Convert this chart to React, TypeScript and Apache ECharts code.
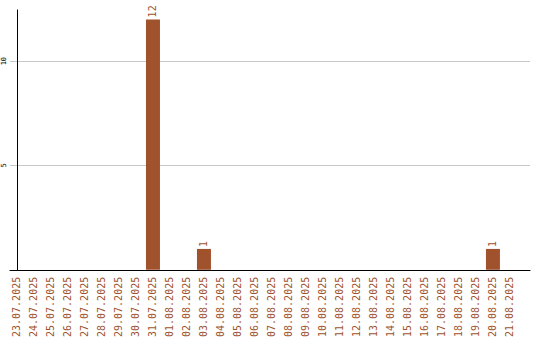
import React, { useEffect, useRef } from "react";
import * as echarts from "echarts";

const dates: string[] = [
  "23.07.2025", "24.07.2025", "25.07.2025", "26.07.2025", "27.07.2025",
  "28.07.2025", "29.07.2025", "30.07.2025", "31.07.2025", "01.08.2025",
  "02.08.2025", "03.08.2025", "04.08.2025", "05.08.2025", "06.08.2025",
  "07.08.2025", "08.08.2025", "09.08.2025", "10.08.2025", "11.08.2025",
  "12.08.2025", "13.08.2025", "14.08.2025", "15.08.2025", "16.08.2025",
  "17.08.2025", "18.08.2025", "19.08.2025", "20.08.2025", "21.08.2025",
];

const counts: number[] = [
  0, 0, 0, 0, 0, 0, 0, 0, 12, 0,
  0, 1, 0, 0, 0, 0, 0, 0, 0, 0,
  0, 0, 0, 0, 0, 0, 0, 0, 1, 0,
];

const yTicks: number[] = [0, 5, 10];

const BROWN = "#a0522d";
const MONO = "'DejaVu Sans Mono', monospace";

export default function App() {
  const ref = useRef<HTMLDivElement>(null);

  useEffect(() => {
    if (!ref.current) return;
    const chart = echarts.init(ref.current, null, { renderer: "svg" });
    const indices = dates.map((_, i) => i);
    const barData = counts
      .map((v, i) => [i, v])
      .filter((d) => d[1] > 0);

    chart.setOption({
      animation: false,
      backgroundColor: "#ffffff",
      grid: { left: 10, right: 10, top: 10, bottom: 70 },
      xAxis: {
        type: "value",
        min: -0.41,
        max: 30.18,
        axisLine: { show: true, onZero: false, lineStyle: { color: "#000", width: 1 } },
        axisTick: { show: false },
        splitLine: { show: false },
        axisLabel: {
          customValues: indices,
          formatter: (v: number) => dates[Math.round(v)] ?? "",
          rotate: 90,
          margin: 7,
          color: BROWN,
          fontFamily: MONO,
          fontSize: 10,
        },
      },
      yAxis: {
        type: "value",
        min: yTicks[0],
        max: 12.45,
        interval: yTicks[1] - yTicks[0],
        axisLine: { show: true, lineStyle: { color: "#000", width: 1 } },
        axisTick: { show: false },
        splitLine: {
          show: true,
          showMinLine: false,
          showMaxLine: false,
          lineStyle: { color: "#c8c8c8", width: 1 },
        },
        axisLabel: {
          showMinLabel: false,
          showMaxLabel: false,
          rotate: 90,
          margin: 3,
          color: "#000",
          fontFamily: MONO,
          fontSize: 7,
        },
      },
      series: [
        {
          type: "bar",
          data: barData,
          barWidth: 14,
          itemStyle: { color: BROWN },
          label: {
            show: true,
            position: "top",
            rotate: 90,
            align: "left",
            verticalAlign: "middle",
            distance: 2,
            color: BROWN,
            fontFamily: MONO,
            fontSize: 10,
            formatter: (p: any) => String(p.value[1]),
          },
        },
      ],
    });
    return () => chart.dispose();
  }, []);

  return (
    <div
      ref={ref}
      style={{ position: "fixed", left: 0, top: 0, width: 540, height: 340 }}
    />
  );
}
